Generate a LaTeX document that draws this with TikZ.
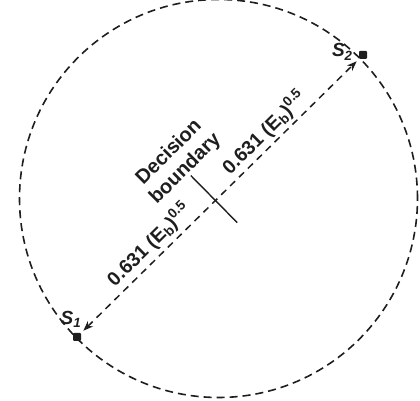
\documentclass[tikz,border=0pt]{standalone}
\usepackage{fontspec}
\setmainfont{Liberation Sans}
\usetikzlibrary{arrows.meta, positioning, calc}
\definecolor{ink}{HTML}{1E1E1E}

\begin{document}
\begin{tikzpicture}[
      x=1pt, y=1pt,
      ring/.style={draw=ink, line width=1.6pt, dash pattern=on 8pt off 5pt},
      sig/.style={rectangle, rounded corners=1pt, fill=ink, inner sep=0pt, minimum size=8pt},
      arr/.style={{Stealth[length=10pt,width=7.5pt]}-{Stealth[length=10pt,width=7.5pt]},
                  ink, line width=1.5pt, dash pattern=on 7pt off 5.5pt, shorten <=3pt, shorten >=3pt},
      tick/.style={draw=ink, line width=1.4pt},
      lbl/.style={font=\fontsize{19.5}{21}\selectfont\bfseries, text=ink, inner sep=1pt}
    ]
      \useasboundingbox (0,0) rectangle (420,401);
      \coordinate (c) at (218.5,202.5);
      \draw[ring] (c) circle (199);
      \node[sig] (s1) at (77,64) {};
      \node[sig] (s2) at (363,346) {};
      \node[lbl, font=\fontsize{19}{21}\selectfont\bfseries\itshape, left=5pt of s2, yshift=3pt] (s2lbl) {S\textsubscript{2}};
      \node[lbl, font=\fontsize{19}{21}\selectfont\bfseries\itshape, above=4pt of s1, xshift=-6pt] (s1lbl) {S\textsubscript{1}};
      \draw[arr] (s1) -- (s2)
        node[lbl, pos=0.283, sloped, above=3pt] (dlow) {0.631 (E\textsubscript{b})\textsuperscript{0.5}}
        node[lbl, pos=0.695, sloped, above=2pt] (dhigh) {0.631 (E\textsubscript{b})\textsuperscript{0.5}};
      % boundary tick
      \coordinate (m) at ($(s1)!0.484!(s2)$);
      \coordinate (btop) at ($(m)!35pt!90:(s2)$);
      \coordinate (bbot) at ($(m)!31pt!-90:(s2)$);
      \draw[tick] (btop) -- (bbot);
      \coordinate (q) at ($(s1)!0.486!(s2)$);
      \coordinate (qtop) at ($(q)!55pt!90:(s2)$);
      \node[lbl, font=\fontsize{20}{23}\selectfont\bfseries, rotate=45, align=center, inner sep=0pt] (bnd) at (qtop) {Decision\\boundary};
    \end{tikzpicture}
\end{document}
